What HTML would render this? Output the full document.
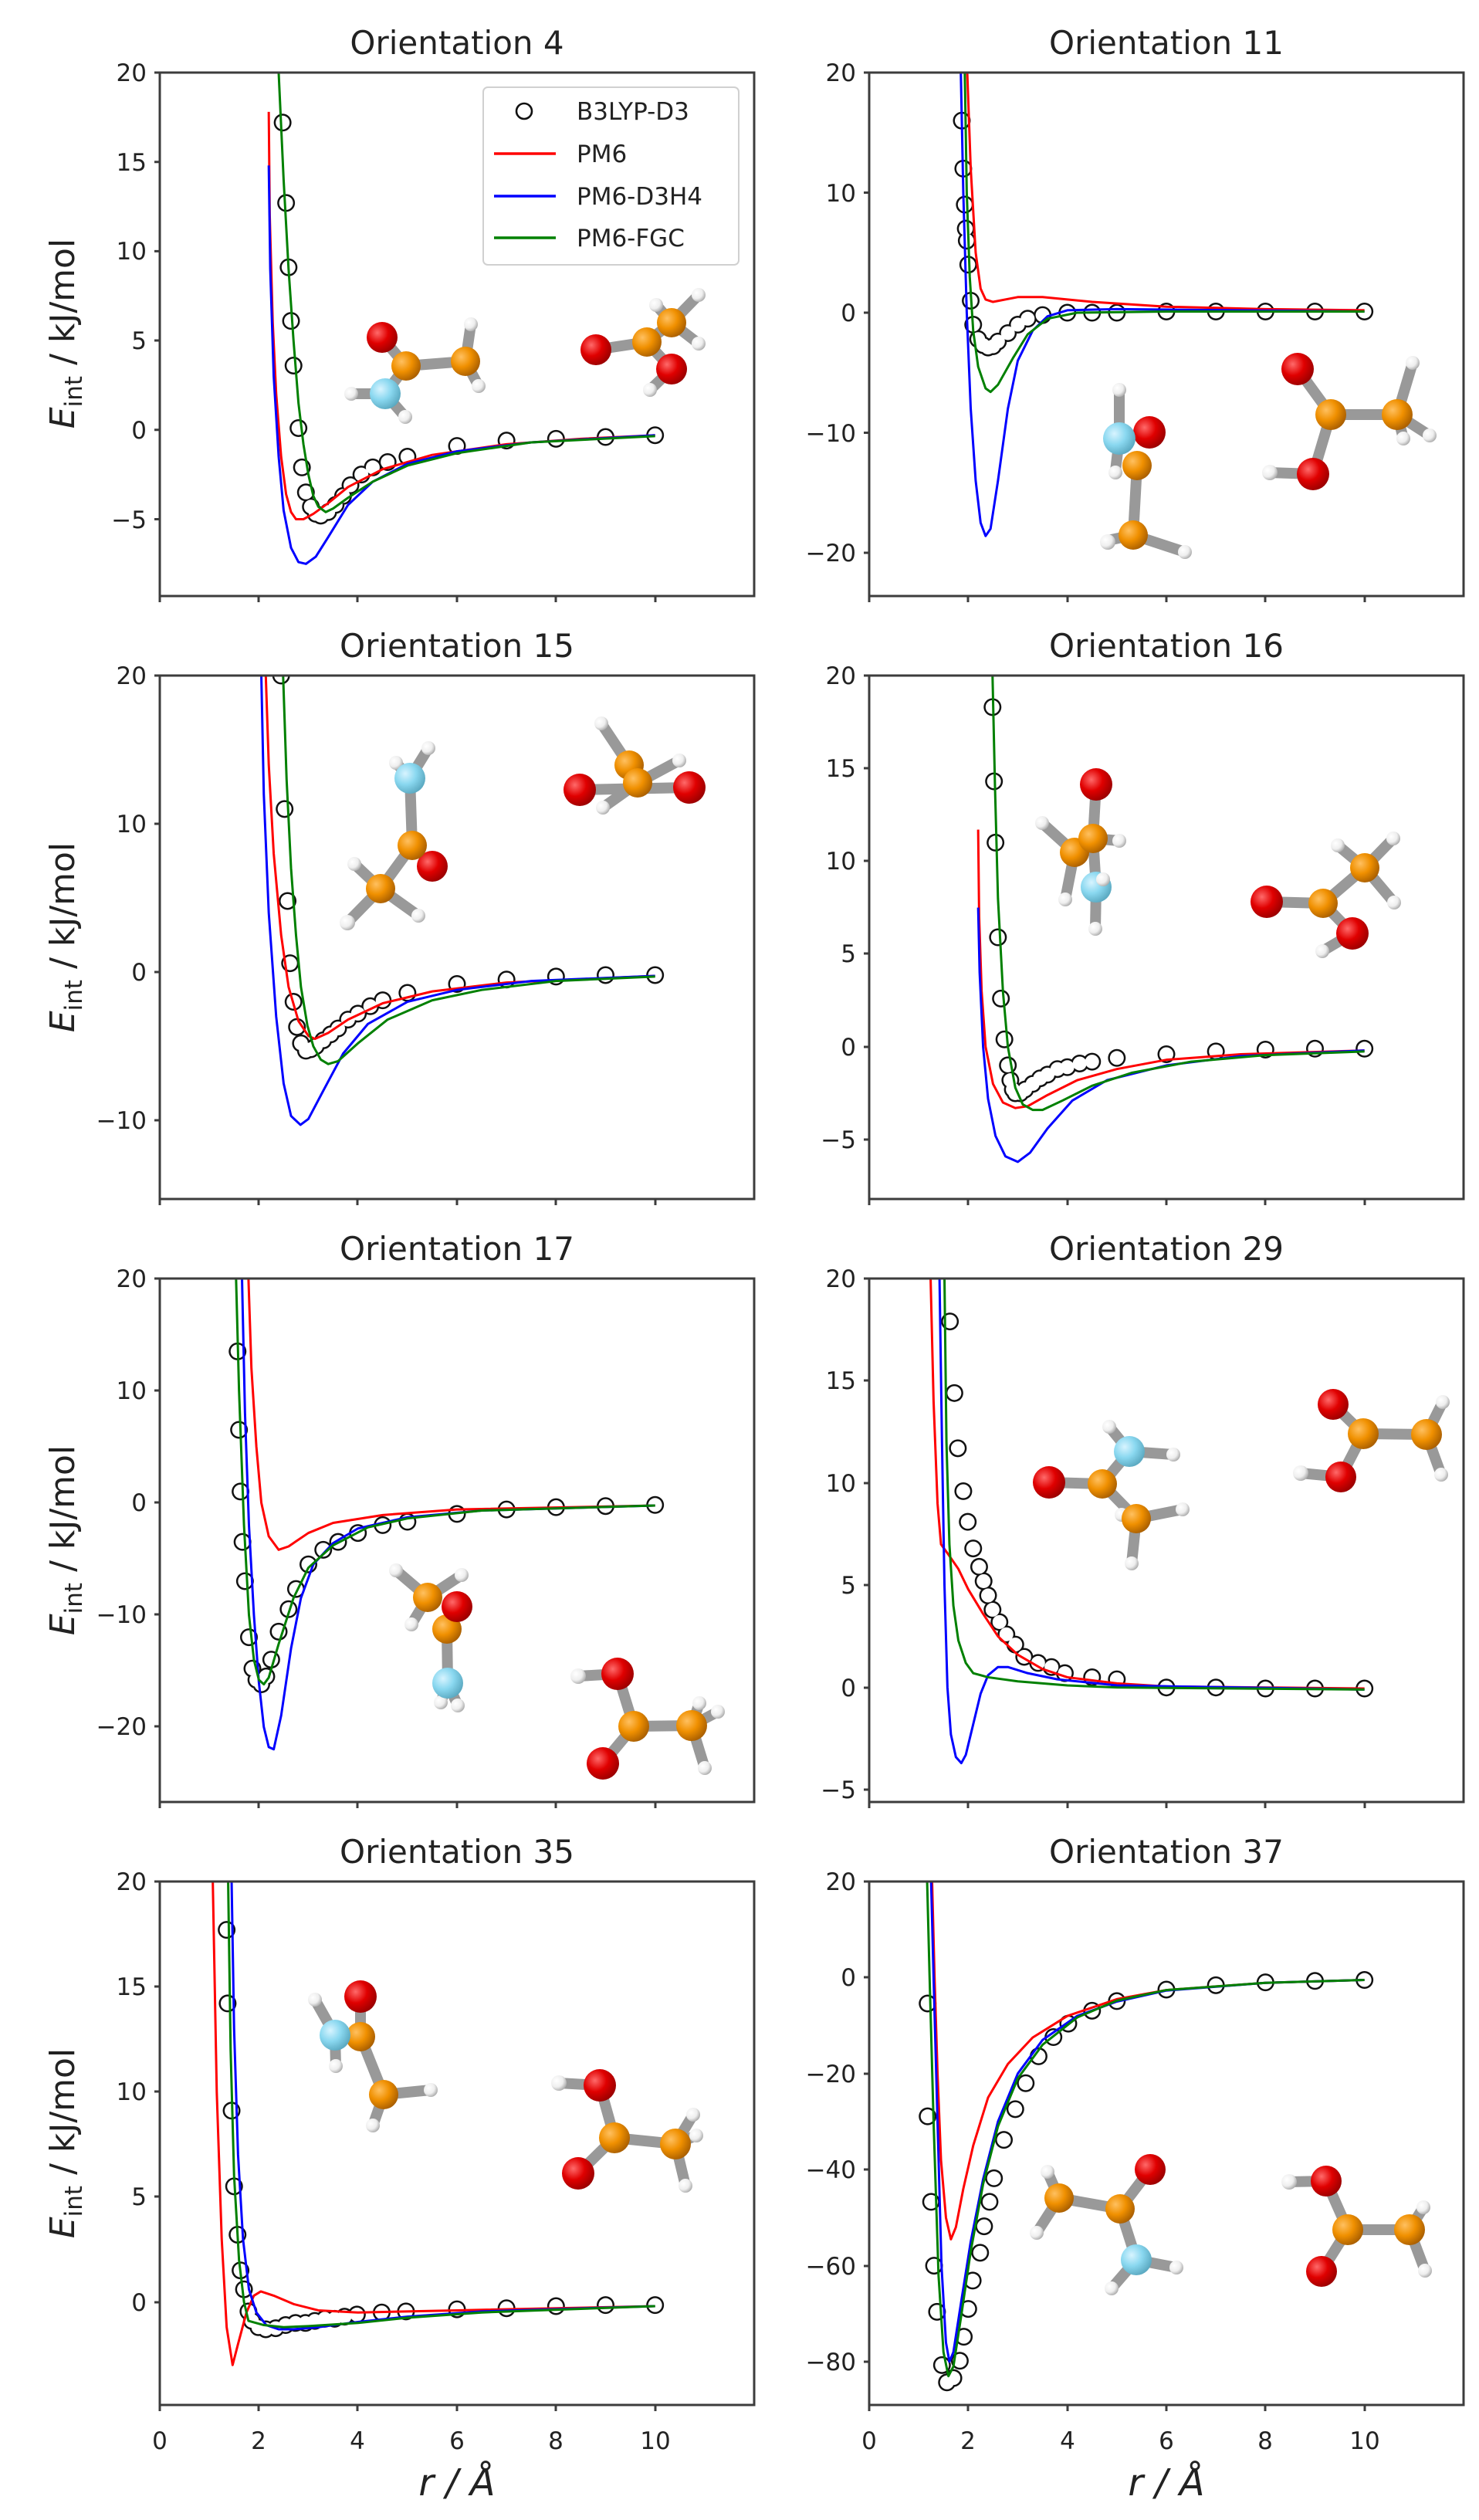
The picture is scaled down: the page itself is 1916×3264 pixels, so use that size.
<!DOCTYPE html>
<html><head><meta charset="utf-8"><style>
html,body{margin:0;padding:0;background:#fff}
svg{display:block}
text{font-family:"DejaVu Sans","Liberation Sans",sans-serif;fill:#222}
.t{font-size:31px}
.ti{font-size:42px;text-anchor:middle}
.yl{font-size:31px;text-anchor:end}
.xl{font-size:31px;text-anchor:middle}
.fr{fill:none;stroke:#3c3c3c;stroke-width:3}
.tk{stroke:#3c3c3c;stroke-width:3}
.c{fill:none;stroke-width:3;vector-effect:non-scaling-stroke;stroke-linejoin:round}
.mk{fill:none;stroke:#111;stroke-width:23;stroke-linecap:round;vector-effect:non-scaling-stroke}
.mw{fill:none;stroke:#fff;stroke-width:18;stroke-linecap:round;vector-effect:non-scaling-stroke}
.b{stroke:#999;stroke-width:14;stroke-linecap:round}
.b2{stroke:#e8e8e8;stroke-width:8;stroke-linecap:round}
</style></head><body>
<svg width="1916" height="3264" viewBox="0 0 1916 3264" xmlns="http://www.w3.org/2000/svg">
<defs>
<radialGradient id="gO" cx="0.35" cy="0.35" r="0.7"><stop offset="0" stop-color="#ff6a6a"/><stop offset="0.5" stop-color="#e00000"/><stop offset="1" stop-color="#900"/></radialGradient>
<radialGradient id="gC" cx="0.35" cy="0.35" r="0.7"><stop offset="0" stop-color="#ffc060"/><stop offset="0.5" stop-color="#f09000"/><stop offset="1" stop-color="#a85e00"/></radialGradient>
<radialGradient id="gN" cx="0.35" cy="0.35" r="0.7"><stop offset="0" stop-color="#d8f4ff"/><stop offset="0.5" stop-color="#8ad8f0"/><stop offset="1" stop-color="#5aa8c0"/></radialGradient>
<radialGradient id="gH" cx="0.35" cy="0.35" r="0.7"><stop offset="0" stop-color="#fff"/><stop offset="0.6" stop-color="#eee"/><stop offset="1" stop-color="#aaa"/></radialGradient>
</defs>

<!-- Titles -->
<text class="ti" x="592" y="70">Orientation 4</text>
<text class="ti" x="1511" y="70">Orientation 11</text>
<text class="ti" x="592" y="851">Orientation 15</text>
<text class="ti" x="1511" y="851">Orientation 16</text>
<text class="ti" x="592" y="1632">Orientation 17</text>
<text class="ti" x="1511" y="1632">Orientation 29</text>
<text class="ti" x="592" y="2413">Orientation 35</text>
<text class="ti" x="1511" y="2413">Orientation 37</text>

<!-- Y labels -->
<g font-size="44">
<text transform="translate(96,432) rotate(-90)" text-anchor="middle" style="font-size:44px"><tspan font-style="italic">E</tspan><tspan style="font-size:31px" dy="10">int</tspan><tspan dy="-10"> / kJ/mol</tspan></text>
<text transform="translate(96,1214) rotate(-90)" text-anchor="middle" style="font-size:44px"><tspan font-style="italic">E</tspan><tspan style="font-size:31px" dy="10">int</tspan><tspan dy="-10"> / kJ/mol</tspan></text>
<text transform="translate(96,1995) rotate(-90)" text-anchor="middle" style="font-size:44px"><tspan font-style="italic">E</tspan><tspan style="font-size:31px" dy="10">int</tspan><tspan dy="-10"> / kJ/mol</tspan></text>
<text transform="translate(96,2776) rotate(-90)" text-anchor="middle" style="font-size:44px"><tspan font-style="italic">E</tspan><tspan style="font-size:31px" dy="10">int</tspan><tspan dy="-10"> / kJ/mol</tspan></text>
</g>

<!-- X labels -->
<text x="592" y="3232" text-anchor="middle" style="font-size:48px;font-style:italic">r / Å</text>
<text x="1511" y="3232" text-anchor="middle" style="font-size:48px;font-style:italic">r / Å</text>
<g class="xl">
<text class="xl" x="207" y="3172">0</text><text class="xl" x="335" y="3172">2</text><text class="xl" x="463" y="3172">4</text><text class="xl" x="592" y="3172">6</text><text class="xl" x="720" y="3172">8</text><text class="xl" x="849" y="3172">10</text>
<text class="xl" x="1126" y="3172">0</text><text class="xl" x="1254" y="3172">2</text><text class="xl" x="1383" y="3172">4</text><text class="xl" x="1511" y="3172">6</text><text class="xl" x="1639" y="3172">8</text><text class="xl" x="1768" y="3172">10</text>
</g>

<!-- Y tick labels -->
<g>
<text class="yl" x="190" y="105">20</text><text class="yl" x="190" y="221">15</text><text class="yl" x="190" y="336">10</text><text class="yl" x="190" y="452">5</text><text class="yl" x="190" y="568">0</text><text class="yl" x="190" y="684">−5</text>
<text class="yl" x="1109" y="105">20</text><text class="yl" x="1109" y="261">10</text><text class="yl" x="1109" y="416">0</text><text class="yl" x="1109" y="572">−10</text><text class="yl" x="1109" y="727">−20</text>
<text class="yl" x="190" y="886">20</text><text class="yl" x="190" y="1078">10</text><text class="yl" x="190" y="1270">0</text><text class="yl" x="190" y="1462">−10</text>
<text class="yl" x="1109" y="886">20</text><text class="yl" x="1109" y="1006">15</text><text class="yl" x="1109" y="1126">10</text><text class="yl" x="1109" y="1246">5</text><text class="yl" x="1109" y="1367">0</text><text class="yl" x="1109" y="1487">−5</text>
<text class="yl" x="190" y="1667">20</text><text class="yl" x="190" y="1812">10</text><text class="yl" x="190" y="1957">0</text><text class="yl" x="190" y="2102">−10</text><text class="yl" x="190" y="2247">−20</text>
<text class="yl" x="1109" y="1667">20</text><text class="yl" x="1109" y="1799">15</text><text class="yl" x="1109" y="1932">10</text><text class="yl" x="1109" y="2064">5</text><text class="yl" x="1109" y="2197">0</text><text class="yl" x="1109" y="2329">−5</text>
<text class="yl" x="190" y="2448">20</text><text class="yl" x="190" y="2584">15</text><text class="yl" x="190" y="2720">10</text><text class="yl" x="190" y="2856">5</text><text class="yl" x="190" y="2993">0</text>
<text class="yl" x="1109" y="2448">20</text><text class="yl" x="1109" y="2572">0</text><text class="yl" x="1109" y="2697">−20</text><text class="yl" x="1109" y="2821">−40</text><text class="yl" x="1109" y="2946">−60</text><text class="yl" x="1109" y="3070">−80</text>
</g>

<!-- Ticks -->
<g class="tk">
<path d="M200,94h7M200,209.7h7M200,325.4h7M200,441h7M200,556.8h7M200,672.5h7
M1119,94h7M1119,249.5h7M1119,405h7M1119,560.5h7M1119,716h7
M200,875h7M200,1067h7M200,1259h7M200,1451h7
M1119,875h7M1119,995h7M1119,1115h7M1119,1235h7M1119,1356h7M1119,1476h7
M200,1656h7M200,1801h7M200,1946h7M200,2091h7M200,2236h7
M1119,1656h7M1119,1788h7M1119,1921h7M1119,2053h7M1119,2186h7M1119,2318h7
M200,2437h7M200,2573h7M200,2709h7M200,2845h7M200,2982h7
M1119,2437h7M1119,2561h7M1119,2686h7M1119,2810h7M1119,2935h7M1119,3059h7"/>
<path d="M207,772v8M335,772v8M463,772v8M592,772v8M720,772v8M849,772v8
M1126,772v8M1254,772v8M1383,772v8M1511,772v8M1639,772v8M1768,772v8
M207,1553v8M335,1553v8M463,1553v8M592,1553v8M720,1553v8M849,1553v8
M1126,1553v8M1254,1553v8M1383,1553v8M1511,1553v8M1639,1553v8M1768,1553v8
M207,2334v8M335,2334v8M463,2334v8M592,2334v8M720,2334v8M849,2334v8
M1126,2334v8M1254,2334v8M1383,2334v8M1511,2334v8M1639,2334v8M1768,2334v8
M207,3115v8M335,3115v8M463,3115v8M592,3115v8M720,3115v8M849,3115v8
M1126,3115v8M1254,3115v8M1383,3115v8M1511,3115v8M1639,3115v8M1768,3115v8"/>
</g>

<!-- Molecules -->
<g>
<!-- P1 A -->
<line class="b" x1="526" y1="474" x2="495" y2="437"/><line class="b" x1="526" y1="474" x2="603" y2="468"/><line class="b" x1="526" y1="474" x2="499" y2="510"/><line class="b" x1="499" y1="510" x2="455" y2="510"/><line class="b" x1="499" y1="510" x2="525" y2="540"/><line class="b" x1="603" y1="468" x2="610" y2="420"/><line class="b" x1="603" y1="468" x2="620" y2="500"/>
<circle cx="455" cy="510" r="9" fill="url(#gH)"/><circle cx="525" cy="540" r="9" fill="url(#gH)"/><circle cx="610" cy="420" r="9" fill="url(#gH)"/><circle cx="620" cy="500" r="9" fill="url(#gH)"/>
<circle cx="495" cy="437" r="20" fill="url(#gO)"/><circle cx="526" cy="474" r="19" fill="url(#gC)"/><circle cx="603" cy="468" r="19" fill="url(#gC)"/><circle cx="499" cy="510" r="20" fill="url(#gN)"/>
<!-- P1 B -->
<line class="b" x1="838" y1="443" x2="772" y2="453"/><line class="b" x1="838" y1="443" x2="870" y2="418"/><line class="b" x1="838" y1="443" x2="870" y2="478"/><line class="b" x1="870" y1="478" x2="842" y2="505"/><line class="b" x1="870" y1="418" x2="850" y2="395"/><line class="b" x1="870" y1="418" x2="905" y2="382"/><line class="b" x1="870" y1="418" x2="905" y2="445"/>
<circle cx="842" cy="505" r="9" fill="url(#gH)"/><circle cx="850" cy="395" r="9" fill="url(#gH)"/><circle cx="905" cy="382" r="9" fill="url(#gH)"/><circle cx="905" cy="445" r="9" fill="url(#gH)"/>
<circle cx="772" cy="453" r="20" fill="url(#gO)"/><circle cx="838" cy="443" r="19" fill="url(#gC)"/><circle cx="870" cy="418" r="19" fill="url(#gC)"/><circle cx="870" cy="478" r="20" fill="url(#gO)"/>
<!-- P2 A -->
<line class="b" x1="1473" y1="603" x2="1468" y2="693"/><line class="b" x1="1450" y1="568" x2="1450" y2="505"/><line class="b" x1="1468" y1="693" x2="1435" y2="700"/><line class="b" x1="1468" y1="693" x2="1535" y2="715"/><line class="b" x1="1450" y1="568" x2="1445" y2="610"/>
<circle cx="1450" cy="505" r="9" fill="url(#gH)"/><circle cx="1435" cy="702" r="10" fill="url(#gH)"/><circle cx="1535" cy="715" r="9" fill="url(#gH)"/><circle cx="1445" cy="612" r="9" fill="url(#gH)"/>
<circle cx="1489" cy="560" r="21" fill="url(#gO)"/><circle cx="1473" cy="603" r="19" fill="url(#gC)"/><circle cx="1450" cy="568" r="21" fill="url(#gN)"/><circle cx="1468" cy="693" r="19" fill="url(#gC)"/>
<!-- P2 B -->
<line class="b" x1="1724" y1="537" x2="1681" y2="478"/><line class="b" x1="1724" y1="537" x2="1810" y2="537"/><line class="b" x1="1724" y1="537" x2="1701" y2="614"/><line class="b" x1="1701" y1="614" x2="1645" y2="612"/><line class="b" x1="1810" y1="537" x2="1830" y2="470"/><line class="b" x1="1810" y1="537" x2="1852" y2="564"/><line class="b" x1="1810" y1="537" x2="1818" y2="568"/>
<circle cx="1645" cy="612" r="10" fill="url(#gH)"/><circle cx="1830" cy="470" r="9" fill="url(#gH)"/><circle cx="1852" cy="564" r="9" fill="url(#gH)"/><circle cx="1818" cy="568" r="9" fill="url(#gH)"/>
<circle cx="1681" cy="478" r="21" fill="url(#gO)"/><circle cx="1724" cy="537" r="20" fill="url(#gC)"/><circle cx="1810" cy="537" r="20" fill="url(#gC)"/><circle cx="1701" cy="614" r="21" fill="url(#gO)"/>
<!-- P3 A -->
<line class="b" x1="534" y1="1095" x2="531" y2="1008"/><line class="b" x1="534" y1="1095" x2="493" y2="1151"/><line class="b" x1="531" y1="1008" x2="513" y2="988"/><line class="b" x1="531" y1="1008" x2="555" y2="969"/><line class="b" x1="493" y1="1151" x2="459" y2="1119"/><line class="b" x1="493" y1="1151" x2="450" y2="1195"/><line class="b" x1="493" y1="1151" x2="542" y2="1186"/>
<circle cx="513" cy="988" r="9" fill="url(#gH)"/><circle cx="555" cy="969" r="9" fill="url(#gH)"/><circle cx="459" cy="1119" r="9" fill="url(#gH)"/><circle cx="450" cy="1195" r="10" fill="url(#gH)"/><circle cx="542" cy="1186" r="9" fill="url(#gH)"/>
<circle cx="560" cy="1122" r="20" fill="url(#gO)"/><circle cx="534" cy="1095" r="19" fill="url(#gC)"/><circle cx="531" cy="1008" r="20" fill="url(#gN)"/><circle cx="493" cy="1151" r="19" fill="url(#gC)"/>
<!-- P3 B -->
<line class="b" x1="815" y1="991" x2="779" y2="937"/><line class="b" x1="751" y1="1023" x2="893" y2="1020"/><line class="b" x1="826" y1="1014" x2="880" y2="985"/><line class="b" x1="826" y1="1014" x2="781" y2="1046"/>
<circle cx="779" cy="937" r="9" fill="url(#gH)"/><circle cx="880" cy="985" r="9" fill="url(#gH)"/><circle cx="781" cy="1046" r="9" fill="url(#gH)"/>
<circle cx="751" cy="1023" r="21" fill="url(#gO)"/><circle cx="815" cy="991" r="19" fill="url(#gC)"/><circle cx="826" cy="1014" r="19" fill="url(#gC)"/><circle cx="893" cy="1020" r="21" fill="url(#gO)"/>
<!-- P4 A -->
<line class="b" x1="1416" y1="1086" x2="1420" y2="1016"/><line class="b" x1="1416" y1="1086" x2="1420" y2="1149"/><line class="b" x1="1392" y1="1104" x2="1350" y2="1066"/><line class="b" x1="1416" y1="1086" x2="1450" y2="1089"/><line class="b" x1="1392" y1="1104" x2="1380" y2="1165"/><line class="b" x1="1420" y1="1149" x2="1419" y2="1203"/>
<circle cx="1350" cy="1066" r="9" fill="url(#gH)"/><circle cx="1450" cy="1089" r="9" fill="url(#gH)"/><circle cx="1380" cy="1165" r="9" fill="url(#gH)"/><circle cx="1419" cy="1203" r="9" fill="url(#gH)"/>
<circle cx="1420" cy="1016" r="21" fill="url(#gO)"/><circle cx="1392" cy="1104" r="19" fill="url(#gC)"/><circle cx="1416" cy="1086" r="19" fill="url(#gC)"/><circle cx="1420" cy="1149" r="20" fill="url(#gN)"/><circle cx="1429" cy="1139" r="9" fill="url(#gH)"/>
<!-- P4 B -->
<line class="b" x1="1714" y1="1170" x2="1641" y2="1168"/><line class="b" x1="1714" y1="1170" x2="1768" y2="1124"/><line class="b" x1="1714" y1="1170" x2="1752" y2="1209"/><line class="b" x1="1752" y1="1209" x2="1713" y2="1232"/><line class="b" x1="1768" y1="1124" x2="1733" y2="1095"/><line class="b" x1="1768" y1="1124" x2="1805" y2="1086"/><line class="b" x1="1768" y1="1124" x2="1806" y2="1169"/>
<circle cx="1713" cy="1232" r="9" fill="url(#gH)"/><circle cx="1733" cy="1095" r="9" fill="url(#gH)"/><circle cx="1805" cy="1086" r="9" fill="url(#gH)"/><circle cx="1806" cy="1169" r="9" fill="url(#gH)"/>
<circle cx="1641" cy="1168" r="21" fill="url(#gO)"/><circle cx="1714" cy="1170" r="19" fill="url(#gC)"/><circle cx="1768" cy="1124" r="19" fill="url(#gC)"/><circle cx="1752" cy="1209" r="21" fill="url(#gO)"/>
<!-- P5 A -->
<line class="b" x1="579" y1="2110" x2="580" y2="2180"/><line class="b" x1="554" y1="2069" x2="513" y2="2034"/><line class="b" x1="554" y1="2069" x2="598" y2="2040"/><line class="b" x1="554" y1="2069" x2="533" y2="2104"/><line class="b" x1="580" y1="2180" x2="571" y2="2205"/><line class="b" x1="580" y1="2180" x2="593" y2="2209"/>
<circle cx="513" cy="2034" r="9" fill="url(#gH)"/><circle cx="598" cy="2040" r="9" fill="url(#gH)"/><circle cx="533" cy="2104" r="9" fill="url(#gH)"/><circle cx="571" cy="2205" r="9" fill="url(#gH)"/><circle cx="593" cy="2209" r="9" fill="url(#gH)"/>
<circle cx="554" cy="2069" r="19" fill="url(#gC)"/><circle cx="579" cy="2110" r="19" fill="url(#gC)"/><circle cx="592" cy="2081" r="20" fill="url(#gO)"/><circle cx="580" cy="2180" r="20" fill="url(#gN)"/>
<!-- P5 B -->
<line class="b" x1="821" y1="2236" x2="800" y2="2168"/><line class="b" x1="821" y1="2236" x2="896" y2="2235"/><line class="b" x1="821" y1="2236" x2="781" y2="2284"/><line class="b" x1="800" y1="2168" x2="749" y2="2171"/><line class="b" x1="896" y1="2235" x2="906" y2="2206"/><line class="b" x1="896" y1="2235" x2="930" y2="2217"/><line class="b" x1="896" y1="2235" x2="913" y2="2290"/>
<circle cx="749" cy="2171" r="10" fill="url(#gH)"/><circle cx="906" cy="2206" r="9" fill="url(#gH)"/><circle cx="930" cy="2217" r="9" fill="url(#gH)"/><circle cx="913" cy="2290" r="9" fill="url(#gH)"/>
<circle cx="800" cy="2168" r="21" fill="url(#gO)"/><circle cx="821" cy="2236" r="20" fill="url(#gC)"/><circle cx="896" cy="2235" r="20" fill="url(#gC)"/><circle cx="781" cy="2284" r="21" fill="url(#gO)"/>
<!-- P6 A -->
<line class="b" x1="1428" y1="1922" x2="1359" y2="1920"/><line class="b" x1="1428" y1="1922" x2="1463" y2="1880"/><line class="b" x1="1428" y1="1922" x2="1472" y2="1967"/><line class="b" x1="1463" y1="1880" x2="1437" y2="1848"/><line class="b" x1="1463" y1="1880" x2="1520" y2="1884"/><line class="b" x1="1472" y1="1967" x2="1532" y2="1955"/><line class="b" x1="1472" y1="1967" x2="1466" y2="2025"/><line class="b" x1="1472" y1="1967" x2="1453" y2="1962"/>
<circle cx="1437" cy="1848" r="9" fill="url(#gH)"/><circle cx="1520" cy="1884" r="9" fill="url(#gH)"/><circle cx="1532" cy="1955" r="9" fill="url(#gH)"/><circle cx="1466" cy="2025" r="9" fill="url(#gH)"/><circle cx="1453" cy="1962" r="9" fill="url(#gH)"/>
<circle cx="1359" cy="1920" r="21" fill="url(#gO)"/><circle cx="1428" cy="1922" r="19" fill="url(#gC)"/><circle cx="1463" cy="1880" r="20" fill="url(#gN)"/><circle cx="1472" cy="1967" r="19" fill="url(#gC)"/>
<!-- P6 B -->
<line class="b" x1="1766" y1="1857" x2="1727" y2="1819"/><line class="b" x1="1766" y1="1857" x2="1848" y2="1858"/><line class="b" x1="1766" y1="1857" x2="1737" y2="1913"/><line class="b" x1="1737" y1="1913" x2="1685" y2="1908"/><line class="b" x1="1848" y1="1858" x2="1869" y2="1816"/><line class="b" x1="1848" y1="1858" x2="1867" y2="1910"/>
<circle cx="1685" cy="1908" r="10" fill="url(#gH)"/><circle cx="1869" cy="1816" r="9" fill="url(#gH)"/><circle cx="1867" cy="1910" r="9" fill="url(#gH)"/>
<circle cx="1727" cy="1819" r="20" fill="url(#gO)"/><circle cx="1766" cy="1857" r="20" fill="url(#gC)"/><circle cx="1848" cy="1858" r="20" fill="url(#gC)"/><circle cx="1737" cy="1913" r="20" fill="url(#gO)"/>
<!-- P7 A -->
<line class="b" x1="467" y1="2638" x2="467" y2="2586"/><line class="b" x1="467" y1="2638" x2="497" y2="2713"/><line class="b" x1="434" y1="2636" x2="408" y2="2590"/><line class="b" x1="434" y1="2636" x2="435" y2="2676"/><line class="b" x1="497" y1="2713" x2="558" y2="2707"/><line class="b" x1="497" y1="2713" x2="483" y2="2753"/>
<circle cx="408" cy="2590" r="9" fill="url(#gH)"/><circle cx="435" cy="2676" r="9" fill="url(#gH)"/><circle cx="558" cy="2707" r="9" fill="url(#gH)"/><circle cx="483" cy="2753" r="9" fill="url(#gH)"/>
<circle cx="467" cy="2586" r="21" fill="url(#gO)"/><circle cx="467" cy="2638" r="19" fill="url(#gC)"/><circle cx="434" cy="2636" r="20" fill="url(#gN)"/><circle cx="497" cy="2713" r="19" fill="url(#gC)"/>
<!-- P7 B -->
<line class="b" x1="796" y1="2769" x2="777" y2="2701"/><line class="b" x1="796" y1="2769" x2="875" y2="2777"/><line class="b" x1="796" y1="2769" x2="749" y2="2815"/><line class="b" x1="777" y1="2701" x2="724" y2="2698"/><line class="b" x1="875" y1="2777" x2="898" y2="2739"/><line class="b" x1="875" y1="2777" x2="902" y2="2766"/><line class="b" x1="875" y1="2777" x2="888" y2="2831"/>
<circle cx="724" cy="2698" r="10" fill="url(#gH)"/><circle cx="898" cy="2739" r="9" fill="url(#gH)"/><circle cx="902" cy="2766" r="9" fill="url(#gH)"/><circle cx="888" cy="2831" r="9" fill="url(#gH)"/>
<circle cx="777" cy="2701" r="21" fill="url(#gO)"/><circle cx="796" cy="2769" r="20" fill="url(#gC)"/><circle cx="875" cy="2777" r="20" fill="url(#gC)"/><circle cx="749" cy="2815" r="21" fill="url(#gO)"/>
<!-- P8 A -->
<line class="b" x1="1372" y1="2847" x2="1451" y2="2861"/><line class="b" x1="1451" y1="2861" x2="1490" y2="2810"/><line class="b" x1="1451" y1="2861" x2="1472" y2="2927"/><line class="b" x1="1372" y1="2847" x2="1357" y2="2813"/><line class="b" x1="1372" y1="2847" x2="1343" y2="2892"/><line class="b" x1="1472" y1="2927" x2="1524" y2="2937"/><line class="b" x1="1472" y1="2927" x2="1440" y2="2964"/>
<circle cx="1357" cy="2813" r="9" fill="url(#gH)"/><circle cx="1343" cy="2892" r="9" fill="url(#gH)"/><circle cx="1524" cy="2937" r="9" fill="url(#gH)"/><circle cx="1440" cy="2964" r="9" fill="url(#gH)"/>
<circle cx="1372" cy="2847" r="19" fill="url(#gC)"/><circle cx="1451" cy="2861" r="19" fill="url(#gC)"/><circle cx="1490" cy="2810" r="20" fill="url(#gO)"/><circle cx="1472" cy="2927" r="20" fill="url(#gN)"/>
<!-- P8 B -->
<line class="b" x1="1746" y1="2888" x2="1718" y2="2825"/><line class="b" x1="1746" y1="2888" x2="1826" y2="2888"/><line class="b" x1="1746" y1="2888" x2="1712" y2="2942"/><line class="b" x1="1718" y1="2825" x2="1670" y2="2826"/><line class="b" x1="1826" y1="2888" x2="1844" y2="2859"/><line class="b" x1="1826" y1="2888" x2="1846" y2="2941"/>
<circle cx="1670" cy="2826" r="10" fill="url(#gH)"/><circle cx="1844" cy="2859" r="9" fill="url(#gH)"/><circle cx="1846" cy="2941" r="9" fill="url(#gH)"/>
<circle cx="1718" cy="2825" r="20" fill="url(#gO)"/><circle cx="1746" cy="2888" r="20" fill="url(#gC)"/><circle cx="1826" cy="2888" r="20" fill="url(#gC)"/><circle cx="1712" cy="2942" r="20" fill="url(#gO)"/>
</g>

<!-- P1: Orientation 4 -->
<svg x="207" y="94" width="770" height="678" viewBox="0 -20 12 29.3" preserveAspectRatio="none">
<path class="mk" d="M2.48,-17.2h0M2.55,-12.7h0M2.6,-9.1h0M2.65,-6.1h0M2.7,-3.6h0M2.8,-0.1h0M2.87,2.1h0M2.95,3.5h0M3.05,4.3h0M3.15,4.7h0M3.25,4.8h0M3.4,4.6h0M3.55,4.2h0M3.7,3.7h0M3.85,3.1h0M4.07,2.5h0M4.3,2.1h0M4.6,1.8h0M5,1.5h0M6,0.9h0M7,0.6h0M8,0.5h0M9,0.4h0M10,0.3h0"/>
<path class="mw" d="M2.48,-17.2h0M2.55,-12.7h0M2.6,-9.1h0M2.65,-6.1h0M2.7,-3.6h0M2.8,-0.1h0M2.87,2.1h0M2.95,3.5h0M3.05,4.3h0M3.15,4.7h0M3.25,4.8h0M3.4,4.6h0M3.55,4.2h0M3.7,3.7h0M3.85,3.1h0M4.07,2.5h0M4.3,2.1h0M4.6,1.8h0M5,1.5h0M6,0.9h0M7,0.6h0M8,0.5h0M9,0.4h0M10,0.3h0"/>
<path class="c" stroke="#f00" d="M2.2,-17.8L2.22,-12 2.28,-6 2.35,-2 2.45,1.5 2.55,3.6 2.65,4.6 2.75,5 2.9,5 3.1,4.7 3.4,4.1 3.8,3.2 4.5,2.2 5.5,1.4 7,0.8 8.5,0.5 10,0.3"/>
<path class="c" stroke="#00f" d="M2.2,-14.8L2.23,-9 2.3,-3 2.4,1.5 2.5,4.5 2.65,6.6 2.8,7.4 2.95,7.5 3.15,7.1 3.4,6 3.8,4.2 4.3,2.9 5,1.9 6,1.2 7.5,0.7 10,0.3"/>
<path class="c" stroke="#008000" d="M2.4,-20L2.5,-14 2.6,-9 2.7,-5 2.8,-1.5 2.9,0.8 3,2.5 3.1,3.7 3.2,4.3 3.35,4.6 3.5,4.4 3.8,3.8 4.3,2.9 5,2 6,1.3 7.5,0.7 10,0.35"/>
</svg>

<!-- P2: Orientation 11 -->
<svg x="1126" y="94" width="770" height="678" viewBox="0 -20 12 43.6" preserveAspectRatio="none">
<path class="mk" d="M1.87,-16h0M1.9,-12h0M1.93,-9h0M1.95,-7h0M1.97,-6h0M2,-4h0M2.05,-1h0M2.1,1h0M2.2,2.2h0M2.3,2.7h0M2.4,2.9h0M2.5,2.8h0M2.6,2.4h0M2.8,1.7h0M3,1h0M3.2,0.5h0M3.5,0.2h0M4,0h0M4.5,0h0M5,0h0M6,-0.1h0M7,-0.1h0M8,-0.1h0M9,-0.1h0M10,-0.1h0"/>
<path class="mw" d="M1.87,-16h0M1.9,-12h0M1.93,-9h0M1.95,-7h0M1.97,-6h0M2,-4h0M2.05,-1h0M2.1,1h0M2.2,2.2h0M2.3,2.7h0M2.4,2.9h0M2.5,2.8h0M2.6,2.4h0M2.8,1.7h0M3,1h0M3.2,0.5h0M3.5,0.2h0M4,0h0M4.5,0h0M5,0h0M6,-0.1h0M7,-0.1h0M8,-0.1h0M9,-0.1h0M10,-0.1h0"/>
<path class="c" stroke="#f00" d="M1.98,-20L2.05,-12 2.15,-5 2.25,-2 2.35,-1.1 2.5,-0.9 3,-1.3 3.5,-1.3 4.5,-0.9 6,-0.5 8,-0.3 10,-0.2"/>
<path class="c" stroke="#00f" d="M1.85,-20L1.9,-10 1.97,0 2.05,8 2.15,14 2.25,17.5 2.35,18.6 2.45,18 2.6,14 2.8,8 3,4 3.3,1.5 3.6,0.3 4,-0.2 5,-0.3 10,-0.1"/>
<path class="c" stroke="#008000" d="M1.93,-20L1.97,-10 2.03,-3 2.1,1.5 2.2,4.5 2.35,6.3 2.45,6.6 2.6,6 2.9,3.8 3.2,1.8 3.6,0.5 4.2,0 6,-0.1 10,-0.1"/>
</svg>

<!-- P3: Orientation 15 -->
<svg x="207" y="875" width="770" height="678" viewBox="0 -20 12 35.3" preserveAspectRatio="none">
<path class="mk" d="M2.45,-20h0M2.52,-11h0M2.58,-4.8h0M2.63,-0.6h0M2.7,2h0M2.77,3.7h0M2.85,4.8h0M2.95,5.3h0M3.05,5.2h0M3.15,5h0M3.3,4.6h0M3.45,4.2h0M3.6,3.8h0M3.8,3.2h0M4,2.8h0M4.25,2.3h0M4.5,1.9h0M5,1.4h0M6,0.8h0M7,0.5h0M8,0.3h0M9,0.2h0M10,0.2h0"/>
<path class="mw" d="M2.45,-20h0M2.52,-11h0M2.58,-4.8h0M2.63,-0.6h0M2.7,2h0M2.77,3.7h0M2.85,4.8h0M2.95,5.3h0M3.05,5.2h0M3.15,5h0M3.3,4.6h0M3.45,4.2h0M3.6,3.8h0M3.8,3.2h0M4,2.8h0M4.25,2.3h0M4.5,1.9h0M5,1.4h0M6,0.8h0M7,0.5h0M8,0.3h0M9,0.2h0M10,0.2h0"/>
<path class="c" stroke="#f00" d="M2.14,-20L2.2,-14 2.3,-8 2.45,-2.5 2.6,1 2.8,3.3 3,4.3 3.13,4.5 3.4,4.1 3.8,3.2 4.5,2.1 5.5,1.3 7,0.7 10,0.25"/>
<path class="c" stroke="#00f" d="M2.05,-20L2.1,-12 2.2,-4 2.35,3 2.5,7.5 2.65,9.7 2.84,10.3 3,9.9 3.3,8 3.7,5.5 4.2,3.5 5,2 6,1.2 7.5,0.6 10,0.25"/>
<path class="c" stroke="#008000" d="M2.49,-20L2.56,-13 2.65,-7 2.75,-2.5 2.85,1 2.98,3.6 3.1,5 3.25,5.9 3.4,6.2 3.6,6 4,4.8 4.6,3.2 5.5,1.9 6.5,1.2 8,0.6 10,0.3"/>
</svg>

<!-- P4: Orientation 16 -->
<svg x="1126" y="875" width="770" height="678" viewBox="0 -20 12 28.2" preserveAspectRatio="none">
<path class="mk" d="M2.49,-18.3h0M2.52,-14.3h0M2.55,-11h0M2.6,-5.9h0M2.66,-2.6h0M2.73,-0.4h0M2.8,1h0M2.85,1.8h0M2.9,2.3h0M2.95,2.5h0M3.05,2.5h0M3.15,2.3h0M3.3,2h0M3.45,1.7h0M3.6,1.5h0M3.8,1.2h0M4,1.1h0M4.25,0.9h0M4.5,0.8h0M5,0.6h0M6,0.4h0M7,0.25h0M8,0.15h0M9,0.1h0M10,0.1h0"/>
<path class="mw" d="M2.49,-18.3h0M2.52,-14.3h0M2.55,-11h0M2.6,-5.9h0M2.66,-2.6h0M2.73,-0.4h0M2.8,1h0M2.85,1.8h0M2.9,2.3h0M2.95,2.5h0M3.05,2.5h0M3.15,2.3h0M3.3,2h0M3.45,1.7h0M3.6,1.5h0M3.8,1.2h0M4,1.1h0M4.25,0.9h0M4.5,0.8h0M5,0.6h0M6,0.4h0M7,0.25h0M8,0.15h0M9,0.1h0M10,0.1h0"/>
<path class="c" stroke="#f00" d="M2.2,-11.7L2.22,-7 2.27,-3 2.35,0 2.5,2 2.7,3 2.95,3.3 3.2,3.2 3.6,2.6 4.2,1.8 5,1.2 6,0.7 7.5,0.4 10,0.2"/>
<path class="c" stroke="#00f" d="M2.2,-7.5L2.23,-4 2.3,0 2.4,2.8 2.55,4.8 2.75,5.9 3,6.2 3.25,5.7 3.6,4.4 4.1,2.9 4.8,1.8 6,1 7.5,0.5 10,0.2"/>
<path class="c" stroke="#008000" d="M2.49,-20L2.54,-14 2.6,-8 2.7,-3 2.8,0 2.95,2.2 3.1,3.1 3.3,3.4 3.5,3.4 3.9,2.9 4.5,2.1 5.3,1.4 6.5,0.8 8,0.45 10,0.25"/>
</svg>

<!-- P5: Orientation 17 -->
<svg x="207" y="1656" width="770" height="678" viewBox="0 -20 12 46.7" preserveAspectRatio="none">
<path class="mk" d="M1.57,-13.5h0M1.6,-6.5h0M1.63,-1h0M1.67,3.5h0M1.72,7h0M1.8,12h0M1.87,14.8h0M1.95,15.8h0M2.05,16.2h0M2.15,15.5h0M2.25,14h0M2.4,11.5h0M2.6,9.5h0M2.75,7.7h0M3,5.5h0M3.3,4.2h0M3.6,3.5h0M4,2.7h0M4.5,2h0M5,1.7h0M6,1h0M7,0.6h0M8,0.4h0M9,0.3h0M10,0.2h0"/>
<path class="mw" d="M1.57,-13.5h0M1.6,-6.5h0M1.63,-1h0M1.67,3.5h0M1.72,7h0M1.8,12h0M1.87,14.8h0M1.95,15.8h0M2.05,16.2h0M2.15,15.5h0M2.25,14h0M2.4,11.5h0M2.6,9.5h0M2.75,7.7h0M3,5.5h0M3.3,4.2h0M3.6,3.5h0M4,2.7h0M4.5,2h0M5,1.7h0M6,1h0M7,0.6h0M8,0.4h0M9,0.3h0M10,0.2h0"/>
<path class="c" stroke="#f00" d="M1.79,-20L1.85,-12 1.95,-5 2.05,0 2.2,3 2.4,4.2 2.6,3.9 3,2.7 3.5,1.8 4.5,1.1 6,0.6 10,0.25"/>
<path class="c" stroke="#00f" d="M1.66,-20L1.72,-8 1.8,2 1.9,10 2,16 2.1,20 2.2,21.8 2.3,22 2.45,19 2.65,13 2.85,8.5 3.1,5.5 3.5,3.6 4,2.3 5,1.3 6.5,0.7 10,0.25"/>
<path class="c" stroke="#008000" d="M1.54,-20L1.6,-10 1.7,2 1.8,10 1.9,14 2,15.8 2.1,16.2 2.2,15.6 2.4,12.6 2.7,8.5 3,5.8 3.5,3.8 4.2,2.2 5,1.4 6.5,0.7 10,0.25"/>
</svg>

<!-- P6: Orientation 29 -->
<svg x="1126" y="1656" width="770" height="678" viewBox="0 -20 12 25.6" preserveAspectRatio="none">
<path class="mk" d="M1.63,-17.9h0M1.72,-14.4h0M1.79,-11.7h0M1.9,-9.6h0M1.99,-8.1h0M2.1,-6.8h0M2.22,-5.9h0M2.31,-5.2h0M2.4,-4.5h0M2.49,-3.8h0M2.63,-3.2h0M2.77,-2.6h0M2.95,-2.1h0M3.13,-1.5h0M3.41,-1.2h0M3.68,-1h0M3.95,-0.7h0M4.5,-0.5h0M5,-0.4h0M6,0h0M7,0h0M8,0.05h0M9,0.05h0M10,0.05h0"/>
<path class="mw" d="M1.63,-17.9h0M1.72,-14.4h0M1.79,-11.7h0M1.9,-9.6h0M1.99,-8.1h0M2.1,-6.8h0M2.22,-5.9h0M2.31,-5.2h0M2.4,-4.5h0M2.49,-3.8h0M2.63,-3.2h0M2.77,-2.6h0M2.95,-2.1h0M3.13,-1.5h0M3.41,-1.2h0M3.68,-1h0M3.95,-0.7h0M4.5,-0.5h0M5,-0.4h0M6,0h0M7,0h0M8,0.05h0M9,0.05h0M10,0.05h0"/>
<path class="c" stroke="#f00" d="M1.24,-20L1.3,-14 1.38,-9 1.45,-7 1.6,-6.5 1.8,-5.8 2,-4.8 2.3,-3.6 2.6,-2.5 3,-1.6 3.5,-0.9 4,-0.5 5,-0.2 6,-0.05 10,0.05"/>
<path class="c" stroke="#00f" d="M1.42,-20L1.47,-12 1.52,-5 1.58,0 1.65,2.3 1.75,3.4 1.86,3.7 1.95,3.3 2.1,1.8 2.25,0.3 2.4,-0.6 2.6,-1 2.8,-1 3.2,-0.7 3.8,-0.4 5,-0.1 10,0.1"/>
<path class="c" stroke="#008000" d="M1.52,-20L1.56,-12 1.62,-7 1.7,-4 1.8,-2.3 1.95,-1.2 2.1,-0.7 2.4,-0.5 3,-0.3 4,-0.1 5,0 10,0.1"/>
</svg>

<!-- P7: Orientation 35 -->
<svg x="207" y="2437" width="770" height="678" viewBox="0 -20 12 24.9" preserveAspectRatio="none">
<path class="mk" d="M1.35,-17.7h0M1.37,-14.2h0M1.45,-9.1h0M1.5,-5.5h0M1.57,-3.2h0M1.63,-1.5h0M1.7,-0.6h0M1.79,0.45h0M1.86,0.9h0M1.99,1.2h0M2.14,1.3h0M2.34,1.25h0M2.54,1.1h0M2.74,1h0M2.94,1h0M3.13,0.9h0M3.33,0.8h0M3.53,0.8h0M3.73,0.7h0M3.98,0.6h0M4.48,0.5h0M4.97,0.45h0M6,0.35h0M7,0.3h0M8,0.2h0M9,0.15h0M10,0.15h0"/>
<path class="mw" d="M1.35,-17.7h0M1.37,-14.2h0M1.45,-9.1h0M1.5,-5.5h0M1.57,-3.2h0M1.63,-1.5h0M1.7,-0.6h0M1.79,0.45h0M1.86,0.9h0M1.99,1.2h0M2.14,1.3h0M2.34,1.25h0M2.54,1.1h0M2.74,1h0M2.94,1h0M3.13,0.9h0M3.33,0.8h0M3.53,0.8h0M3.73,0.7h0M3.98,0.6h0M4.48,0.5h0M4.97,0.45h0M6,0.35h0M7,0.3h0M8,0.2h0M9,0.15h0M10,0.15h0"/>
<path class="c" stroke="#f00" d="M1.07,-20L1.15,-10 1.25,-3 1.35,1.2 1.47,3 1.58,2 1.75,0.5 1.9,-0.3 2.04,-0.5 2.3,-0.3 2.7,0.1 3.2,0.4 4,0.5 6,0.4 10,0.2"/>
<path class="c" stroke="#00f" d="M1.45,-20L1.5,-13 1.58,-7 1.68,-3 1.8,-0.6 1.95,0.5 2.15,1.1 2.4,1.3 2.7,1.3 3.2,1.2 4,0.95 5,0.7 6.5,0.45 10,0.2"/>
<path class="c" stroke="#008000" d="M1.38,-20L1.43,-12 1.5,-6 1.6,-2 1.7,0 1.79,0.9 2.1,1.1 2.5,1.2 3,1.15 4,1 5,0.75 6.5,0.5 10,0.2"/>
</svg>

<!-- P8: Orientation 37 -->
<svg x="1126" y="2437" width="770" height="678" viewBox="0 -20 12 109" preserveAspectRatio="none">
<path class="mk" d="M1.18,5.4h0M1.18,28.9h0M1.25,46.7h0M1.31,60h0M1.37,69.6h0M1.47,80.7h0M1.57,84.3h0M1.7,83.4h0M1.83,79.8h0M1.91,74.8h0M2,69h0M2.09,63.1h0M2.24,57.3h0M2.32,51.8h0M2.43,46.7h0M2.52,41.8h0M2.72,33.8h0M2.95,27.4h0M3.16,22h0M3.42,16.4h0M3.72,12.4h0M4.02,9.6h0M4.5,6.9h0M5,4.9h0M6,2.5h0M7,1.6h0M8,1h0M9,0.7h0M10,0.5h0"/>
<path class="mw" d="M1.18,5.4h0M1.18,28.9h0M1.25,46.7h0M1.31,60h0M1.37,69.6h0M1.47,80.7h0M1.57,84.3h0M1.7,83.4h0M1.83,79.8h0M1.91,74.8h0M2,69h0M2.09,63.1h0M2.24,57.3h0M2.32,51.8h0M2.43,46.7h0M2.52,41.8h0M2.72,33.8h0M2.95,27.4h0M3.16,22h0M3.42,16.4h0M3.72,12.4h0M4.02,9.6h0M4.5,6.9h0M5,4.9h0M6,2.5h0M7,1.6h0M8,1h0M9,0.7h0M10,0.5h0"/>
<path class="c" stroke="#f00" d="M1.27,-20L1.32,0 1.38,20 1.45,38 1.55,50 1.65,54.5 1.75,52 1.9,44 2.1,35 2.4,25 2.8,18 3.3,12.5 4,8 5,4.5 6,2.6 8,1.1 10,0.5"/>
<path class="c" stroke="#00f" d="M1.25,-20L1.3,0 1.38,30 1.46,60 1.55,76 1.62,80 1.7,78 1.85,68 2.05,55 2.3,42 2.6,30 3,20 3.5,13 4.2,8 5,5 6,2.7 8,1.1 10,0.5"/>
<path class="c" stroke="#008000" d="M1.17,-20L1.22,0 1.3,30 1.4,62 1.5,78 1.6,83 1.7,81 1.85,71 2.05,57 2.3,43 2.6,31 3,21 3.5,14 4.2,8.3 5,4.8 6,2.6 8,1.1 10,0.5"/>
</svg>

<!-- Frames -->
<g class="fr">
<rect x="207" y="94" width="770" height="678"/><rect x="1126" y="94" width="770" height="678"/>
<rect x="207" y="875" width="770" height="678"/><rect x="1126" y="875" width="770" height="678"/>
<rect x="207" y="1656" width="770" height="678"/><rect x="1126" y="1656" width="770" height="678"/>
<rect x="207" y="2437" width="770" height="678"/><rect x="1126" y="2437" width="770" height="678"/>
</g>

<!-- Legend -->
<rect x="626" y="113" width="331" height="230" rx="6" fill="#fff" fill-opacity="0.85" stroke="#d0d0d0" stroke-width="2"/>
<circle cx="679" cy="144" r="10" fill="none" stroke="#111" stroke-width="2.6"/>
<line x1="640" y1="199" x2="720" y2="199" stroke="#f00" stroke-width="3.5"/>
<line x1="640" y1="254" x2="720" y2="254" stroke="#00f" stroke-width="3.5"/>
<line x1="640" y1="308" x2="720" y2="308" stroke="#008000" stroke-width="3.5"/>
<text class="t" x="747" y="155">B3LYP-D3</text>
<text class="t" x="747" y="210">PM6</text>
<text class="t" x="747" y="265">PM6-D3H4</text>
<text class="t" x="747" y="319">PM6-FGC</text>
</svg>
</body></html>
